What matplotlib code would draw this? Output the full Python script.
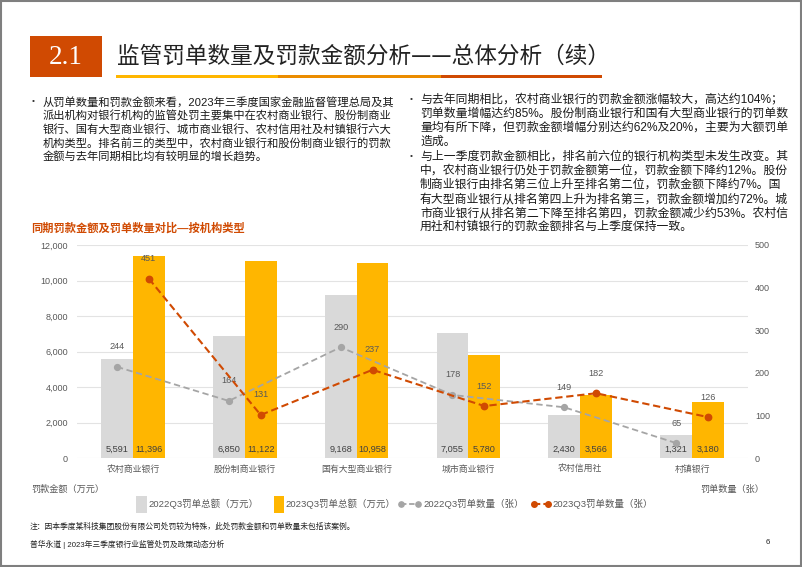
import numpy as np
import matplotlib
matplotlib.use('Agg')
import matplotlib.pyplot as plt
from matplotlib.patches import Rectangle
from matplotlib.lines import Line2D

plt.rcParams['font.family'] = ['Liberation Sans', 'Noto Sans CJK SC']

# data
categories = ['农村商业银行', '股份制商业银行', '国有大型商业银行', '城市商业银行', '农村信用社', '村镇银行']
amt_2022 = [5591, 6850, 9168, 7055, 2430, 1321]       # 万元
amt_2023 = [11396, 11122, 10958, 5780, 3566, 3180]    # 万元
cnt_2022 = [244, 164, 290, 178, 149, 65]              # 张
cnt_2023 = [451, 131, 237, 152, 182, 126]             # 张
series_names = ['2022Q3罚单总额（万元）', '2023Q3罚单总额（万元）',
                '2022Q3罚单数量（张）', '2023Q3罚单数量（张）']
left_ticks = [0, 2000, 4000, 6000, 8000, 10000, 12000]
right_ticks = [0, 100, 200, 300, 400, 500]

title = '监管罚单数量及罚款金额分析——总体分析（续）'
chart_title = '同期罚款金额及罚单数量对比—按机构类型'
left_lines = [
    '从罚单数量和罚款金额来看，2023年三季度国家金融监督管理总局及其',
    '派出机构对银行机构的监管处罚主要集中在农村商业银行、股份制商业',
    '银行、国有大型商业银行、城市商业银行、农村信用社及村镇银行六大',
    '机构类型。排名前三的类型中，农村商业银行和股份制商业银行的罚款',
    '金额与去年同期相比均有较明显的增长趋势。',
]
right_lines1 = [
    '与去年同期相比，农村商业银行的罚款金额涨幅较大，高达约104%；',
    '罚单数量增幅达约85%。股份制商业银行和国有大型商业银行的罚单数',
    '量均有所下降，但罚款金额增幅分别达约62%及20%，主要为大额罚单',
    '造成。',
]
right_lines2 = [
    '与上一季度罚款金额相比，排名前六位的银行机构类型未发生改变。其',
    '中，农村商业银行仍处于罚款金额第一位，罚款金额下降约12%。股份',
    '制商业银行由排名第三位上升至排名第二位，罚款金额下降约7%。国',
    '有大型商业银行从排名第四上升为排名第三，罚款金额增加约72%。城',
    '市商业银行从排名第二下降至排名第四，罚款金额减少约53%。农村信',
    '用社和村镇银行的罚款金额排名与上季度保持一致。',
]
note = '注：因本季度某科技集团股份有限公司处罚较为特殊，此处罚款金额和罚单数量未包括该案例。'
footer = '普华永道 | 2023年三季度银行业监管处罚及政策动态分析'

GRAY_BAR = '#D9D9D9'
ORANGE = '#FFB600'
GRAY_LINE = '#A5A5A5'
RED = '#D04A02'
TXT = '#595959'

W, H = 802, 567
def fx(x):
    return x / W
def fy(y):
    return 1 - y / H

fig = plt.figure(figsize=(W / 100, H / 100), dpi=100)

# page frame
fig.add_artist(Rectangle((fx(1), fy(566)), fx(800), 565 / H, transform=fig.transFigure,
                         fill=False, edgecolor='#7f7f7f', lw=1.5))

# header
fig.add_artist(Rectangle((fx(30), fy(77)), fx(71.5), 41 / H, transform=fig.transFigure,
                         facecolor=RED, edgecolor='none'))
fig.text(fx(66), fy(57.5), '2.1', family='Liberation Serif', fontsize=19.5, color='white',
         ha='center', va='center')
fig.text(fx(117), fy(56.5), title, family=['Noto Sans CJK SC'], fontsize=16.3, color='#222222',
         ha='left', va='center')
for x0, x1, c in [(116, 278, ORANGE), (278, 441, '#EB8C00'), (441, 602, RED)]:
    fig.add_artist(Rectangle((fx(x0), fy(77.5)), fx(x1 - x0), 3 / H, transform=fig.transFigure,
                             facecolor=c, edgecolor='none'))

# body text
fig.text(fx(32), fy(101.5), '•', fontsize=6, color='#333333', ha='left', va='center')
for i, s in enumerate(left_lines):
    fig.text(fx(43), fy(102.3 + 13.7 * i), s, fontsize=8.1, color='#1a1a1a', ha='left', va='center')
fig.text(fx(410), fy(99), '•', fontsize=6, color='#333333', ha='left', va='center')
for i, s in enumerate(right_lines1):
    fig.text(fx(420), fy(99.5 + 14.1 * i), s, fontsize=8.55, color='#1a1a1a', ha='left', va='center')
fig.text(fx(410), fy(156.3), '•', fontsize=6, color='#333333', ha='left', va='center')
for i, s in enumerate(right_lines2):
    fig.text(fx(420), fy(156.7 + 14.1 * i), s, fontsize=8.55, color='#1a1a1a', ha='left', va='center')

fig.text(fx(31), fy(228), chart_title, fontsize=8.1, fontweight='bold', color=RED, ha='left', va='center')

# chart
ax = fig.add_axes([fx(77), fy(458), 671 / W, 213 / H])
x = np.arange(len(categories))
bw = 0.285
b1 = ax.bar(x - bw / 2, amt_2022, bw, color=GRAY_BAR, zorder=2)
b2 = ax.bar(x + bw / 2, amt_2023, bw, color=ORANGE, zorder=2)
for bars, vals in [(b1, amt_2022), (b2, amt_2023)]:
    for r, v in zip(bars, vals):
        ax.annotate(f'{v:,}', (r.get_x() + r.get_width() / 2, 0), xytext=(0, 9),
                    textcoords='offset pixels', ha='center', va='center', fontsize=6.6, color='#404040')

ax.set_xlim(-0.5, len(categories) - 0.5)
ax.set_ylim(0, 12000)
ax.set_yticks(left_ticks)
ax.set_yticklabels([f'{t:,}' for t in left_ticks])
ax.set_xticks(x)
ax.set_xticklabels(categories)
ax.tick_params(axis='y', length=0, pad=6.5, labelsize=6.5, labelcolor=TXT)
ax.tick_params(axis='x', length=0, pad=5, labelsize=6.4, labelcolor=TXT)
ax.yaxis.grid(True, color='#E3E3E3', lw=0.8)
ax.set_axisbelow(True)
for sp in ax.spines.values():
    sp.set_visible(False)

# the count series sits ~30 below the printed right-axis ticks in the source
shift = 30
ax2 = ax.twinx()
ax2.set_ylim(shift, 500 + shift)
ax2.set_yticks([t + shift for t in right_ticks])
ax2.set_yticklabels([str(t) for t in right_ticks])
ax2.tick_params(axis='y', length=0, pad=5, labelsize=6.5, labelcolor=TXT)
for sp in ax2.spines.values():
    sp.set_visible(False)
ax2.plot(x - bw / 2, cnt_2022, color=GRAY_LINE, lw=1.3, dashes=(3.5, 2), marker='o', markersize=4.2, zorder=3)
ax2.plot(x + bw / 2, cnt_2023, color=RED, lw=1.5, dashes=(3.5, 1.8), marker='o', markersize=4.6, zorder=4)
for xs, vals in [(x - bw / 2, cnt_2022), (x + bw / 2, cnt_2023)]:
    for xi, v in zip(xs, vals):
        ax2.annotate(str(v), (xi, v), xytext=(0, 20), textcoords='offset pixels',
                     ha='center', va='center', fontsize=6.6, color=TXT)

# axis titles
fig.text(fx(31), fy(489.5), '罚款金额（万元）', fontsize=6.6, color=TXT, ha='left', va='center')
fig.text(fx(764), fy(489.5), '罚单数量（张）', fontsize=6.6, color=TXT, ha='right', va='center')

# legend
ly = 504
leg_fs = 6.8
fig.add_artist(Rectangle((fx(135.5), fy(512.5)), fx(11.5), 17 / H, transform=fig.transFigure,
                         facecolor=GRAY_BAR, edgecolor='none'))
fig.text(fx(148.5), fy(ly), series_names[0], fontsize=leg_fs, color=TXT, ha='left', va='center')
fig.add_artist(Rectangle((fx(273.5), fy(512.5)), fx(10.5), 17 / H, transform=fig.transFigure,
                         facecolor=ORANGE, edgecolor='none'))
fig.text(fx(285), fy(ly), series_names[1], fontsize=leg_fs, color=TXT, ha='left', va='center')
fig.add_artist(Line2D([fx(401), fx(418)], [fy(ly), fy(ly)], transform=fig.transFigure,
                      color=GRAY_LINE, lw=1.3, dashes=(3, 1.5), marker='o', markersize=3.8))
fig.text(fx(423.5), fy(ly), series_names[2], fontsize=leg_fs, color=TXT, ha='left', va='center')
fig.add_artist(Line2D([fx(534), fx(548)], [fy(ly), fy(ly)], transform=fig.transFigure,
                      color=RED, lw=1.5, dashes=(3, 1.5), marker='o', markersize=4))
fig.text(fx(552.5), fy(ly), series_names[3], fontsize=leg_fs, color=TXT, ha='left', va='center')

# footnotes
fig.text(fx(30), fy(527), note, fontsize=5.6, color='#222222', ha='left', va='center')
fig.text(fx(30), fy(544.5), footer, fontsize=5.6, color='#222222', ha='left', va='center')
fig.text(fx(768), fy(542), '6', fontsize=5.6, color='#222222', ha='center', va='center')

fig.savefig('out.png', dpi=100)
